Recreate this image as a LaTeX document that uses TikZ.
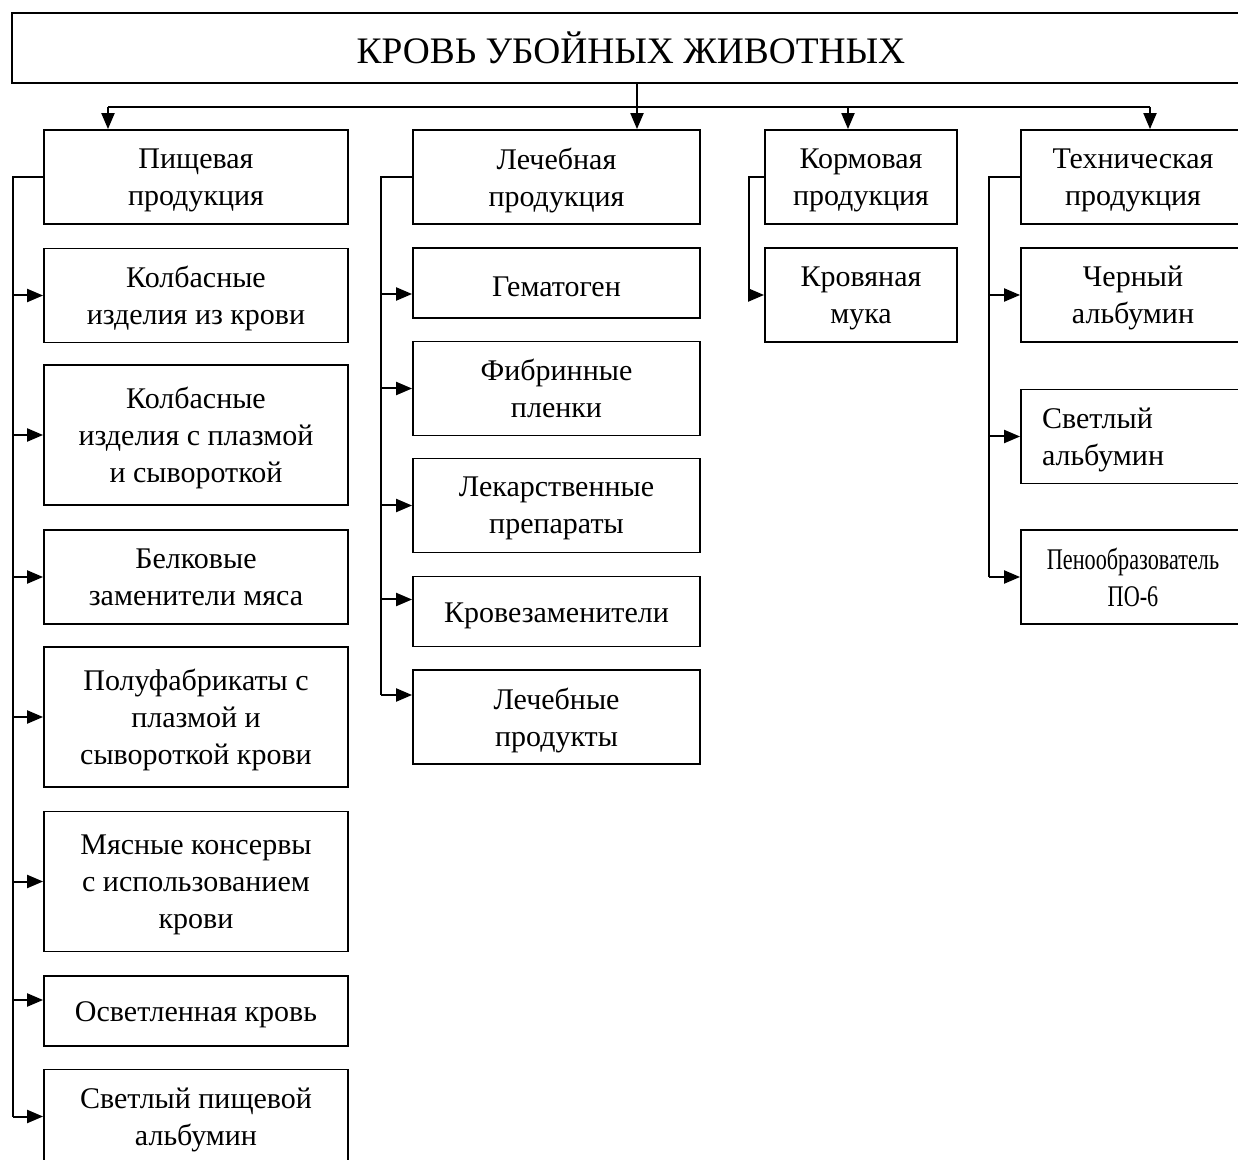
\documentclass[tikz,border=0pt]{standalone}
\usepackage{fontspec}
\setmainfont{Liberation Serif}
\usepackage{graphicx}
\usetikzlibrary{arrows.meta}

\begin{document}
\begin{tikzpicture}[
        x=0.5pt, y=-0.5pt,
        box/.style={draw, line width=0.9pt, inner sep=0pt, align=center,
            font=\fontsize{15}{18.5}\selectfont, text depth=0pt,
            execute at begin node={\rule{0pt}{14pt}}},
        tall/.style={minimum height=70pt},
        mid/.style={minimum height=47pt},
        low/.style={minimum height=35pt, text depth={}},
        colfood/.style={box, minimum width=152pt},
        colmed/.style={box, minimum width=143.5pt},
        colfeed/.style={box, minimum width=96pt},
        coltech/.style={box, minimum width=112pt},
        arr/.style={line width=1pt, -{Triangle[length=8pt,width=6.5pt]}},
        link/.style={line width=1pt}
    ]
        \clip (0,0) rectangle (1238,1160);

        % Root
        \node[box, minimum width=619pt, minimum height=35pt, text depth={},
            font=\fontsize{18.7}{22}\selectfont] (blood) at (631,48) {КРОВЬ УБОЙНЫХ ЖИВОТНЫХ};

        % Product groups
        \node[colfood, mid] (food) at (196,177) {Пищевая\\продукция};
        \node[colmed, mid] (med) at (556.5,177) {Лечебная\\продукция};
        \node[colfeed, mid] (feed) at (861,177) {Кормовая\\продукция};
        \node[coltech, mid] (tech) at (1133,177) {Техническая\\продукция};

        % Food products
        \node[colfood, mid] (f1) at (196,295.5) {Колбасные\\изделия из крови};
        \node[colfood, tall] (f2) at (196,435) {Колбасные\\изделия с плазмой\\и сывороткой};
        \node[colfood, mid] (f3) at (196,577) {Белковые\\заменители мяса};
        \node[colfood, tall] (f4) at (196,717) {Полуфабрикаты с\\плазмой и\\сывороткой крови};
        \node[colfood, tall] (f5) at (196,881.5) {Мясные консервы\\с использованием\\крови};
        \node[colfood, low] (f6) at (196,1011) {Осветленная кровь};
        \node[colfood, mid] (f7) at (196,1116.5) {Светлый пищевой\\альбумин};

        % Medical products
        \node[colmed, low] (m1) at (556.5,283) {Гематоген};
        \node[colmed, mid] (m2) at (556.5,388.5) {Фибринные\\пленки};
        \node[colmed, mid] (m3) at (556.5,505.5) {Лекарственные\\препараты};
        \node[colmed, low] (m4) at (556.5,611.5) {Кровезаменители};
        \node[colmed, mid] (m5) at (556.5,717) {Лечебные\\продукты};

        % Feed products
        \node[colfeed, mid] (k1) at (861,295) {Кровяная\\мука};

        % Technical products
        \node[coltech, mid] (t1) at (1133,295) {Черный\\альбумин};
        \node[coltech, mid, align=left, text width=91pt, inner xsep=10.5pt, text depth={}] (t2) at (1133,436.5) {Светлый\\альбумин};
        \node[coltech, mid] (t3) at (1133,577) {\scalebox{0.74}[1]{Пенообразователь}\\\scalebox{0.74}[1]{ПО-6}};

        % Bus from the root
        \coordinate (b1) at (108,107);
        \coordinate (b2) at (637,107);
        \coordinate (b3) at (848,107);
        \coordinate (b4) at (1150,107);
        \draw[link] (b2 |- blood.south) -- (b2);
        \draw[link] (b1) -- (b4);
        \draw[arr] (b1) -- (b1 |- food.north);
        \draw[arr] (b2) -- (b2 |- med.north);
        \draw[arr] (b3) -- (b3 |- feed.north);
        \draw[arr] (b4) -- (b4 |- tech.north);

        % Spines
        \coordinate (s1) at (13,0);
        \coordinate (s2) at (381,0);
        \coordinate (s3) at (749,0);
        \coordinate (s4) at (989,0);

        % arrow points that sit off the box middle
        \coordinate (f6a) at ([yshift=5.5pt]f6.west);
        \coordinate (m1a) at ([yshift=-5.5pt]m1.west);
        \coordinate (m4a) at ([yshift=6pt]m4.west);
        \coordinate (m5a) at ([yshift=11pt]m5.west);

        \draw[link] (food.west) -| (s1 |- f7.west);
        \foreach \n in {f1,f2,f3,f4,f5,f7}
            \draw[arr] (s1 |- \n.west) -- (\n.west);
        \draw[arr] (s1 |- f6a) -- (f6a);

        \draw[link] (med.west) -| (s2 |- m5a);
        \foreach \n in {m1a,m4a,m5a}
            \draw[arr] (s2 |- \n) -- (\n);
        \foreach \n in {m2,m3}
            \draw[arr] (s2 |- \n.west) -- (\n.west);

        \draw[link] (feed.west) -| (s3 |- k1.west);
        \draw[arr] (s3 |- k1.west) -- (k1.west);

        \draw[link] (tech.west) -| (s4 |- t3.west);
        \foreach \n in {t1,t2,t3}
            \draw[arr] (s4 |- \n.west) -- (\n.west);
    \end{tikzpicture}
\end{document}
